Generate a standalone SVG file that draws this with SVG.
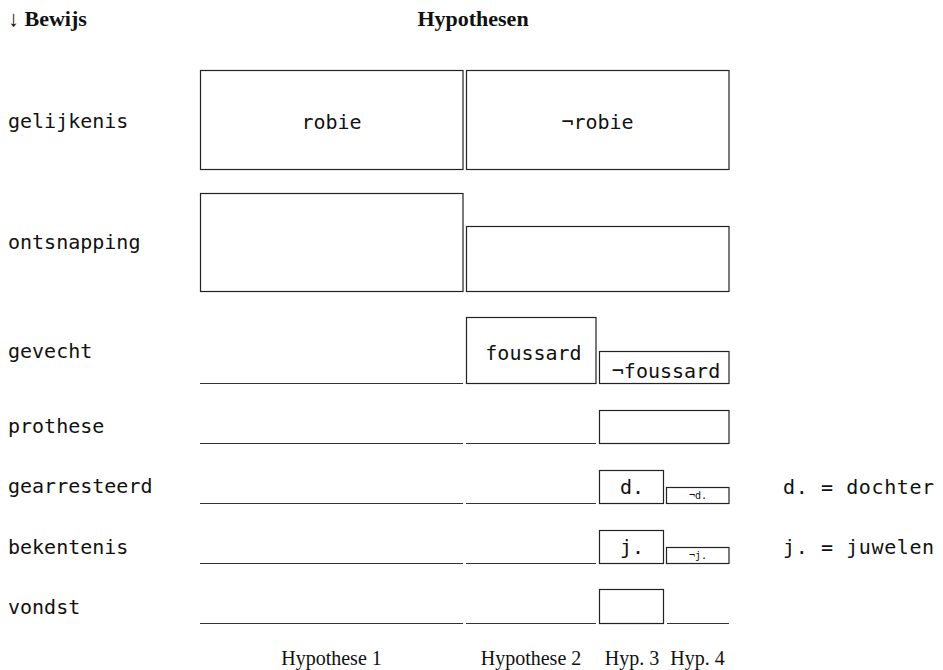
<svg xmlns="http://www.w3.org/2000/svg" width="943" height="670" viewBox="0 0 943 670">
<style>
.mono{font-family:"DejaVu Sans Mono","Liberation Mono",monospace;font-size:20px;fill:#111}
.small{font-family:"DejaVu Sans Mono","Liberation Mono",monospace;font-size:10px;fill:#111}
.head{font-family:"Liberation Serif","DejaVu Serif",serif;font-size:22px;font-weight:bold;fill:#111}
.foot{font-family:"Liberation Serif","DejaVu Serif",serif;font-size:20px;fill:#111}
.box{fill:#fff;stroke:#222;stroke-width:1.2}
.ln{stroke:#333;stroke-width:1.2;fill:none}
</style>
<rect width="943" height="670" fill="#fff"/>
<g id="headers">
<text class="head" x="8" y="26"><tspan font-weight="normal">↓</tspan> Bewijs</text>
<text class="head" x="473" y="26" text-anchor="middle">Hypothesen</text>
</g>
<g id="row-labels">
<text class="mono" x="8" y="128">gelijkenis</text>
<text class="mono" x="8" y="249">ontsnapping</text>
<text class="mono" x="8" y="358">gevecht</text>
<text class="mono" x="8" y="433">prothese</text>
<text class="mono" x="8" y="493">gearresteerd</text>
<text class="mono" x="8" y="554">bekentenis</text>
<text class="mono" x="8" y="614">vondst</text>
</g>
<g id="legend">
<text class="mono" x="783" y="494" letter-spacing="0.6">d. = dochter</text>
<text class="mono" x="783" y="554" letter-spacing="0.6">j. = juwelen</text>
</g>
<g id="connectors">
<line class="ln" x1="200" y1="383.5" x2="463" y2="383.5"/>
<line class="ln" x1="200" y1="443.5" x2="463" y2="443.5"/>
<line class="ln" x1="466" y1="443.5" x2="596" y2="443.5"/>
<line class="ln" x1="200" y1="503.5" x2="463" y2="503.5"/>
<line class="ln" x1="466" y1="503.5" x2="596" y2="503.5"/>
<line class="ln" x1="200" y1="563.5" x2="463" y2="563.5"/>
<line class="ln" x1="466" y1="563.5" x2="596" y2="563.5"/>
<line class="ln" x1="200" y1="623.5" x2="463" y2="623.5"/>
<line class="ln" x1="466" y1="623.5" x2="596" y2="623.5"/>
<line class="ln" x1="667" y1="623.5" x2="729" y2="623.5"/>
</g>
<g id="robie"><rect class="box" x="200.5" y="70.5" width="262.5" height="99"/><text class="mono" x="331.5" y="129" text-anchor="middle">robie</text></g>
<g id="not-robie"><rect class="box" x="466.5" y="70.5" width="262.5" height="99"/><text class="mono" x="597.5" y="129" text-anchor="middle">¬robie</text></g>
<g id="ontsnapping-1"><rect class="box" x="200.5" y="193.5" width="262.5" height="98"/></g>
<g id="ontsnapping-2"><rect class="box" x="466.5" y="226.5" width="262.5" height="65"/></g>
<g id="foussard"><rect class="box" x="466.5" y="317.5" width="129.5" height="66"/><text class="mono" x="533.5" y="360" text-anchor="middle">foussard</text></g>
<g id="not-foussard"><rect class="box" x="599.5" y="351.5" width="129.5" height="32"/><text class="mono" x="666" y="378" text-anchor="middle">¬foussard</text></g>
<g id="prothese-3"><rect class="box" x="599.5" y="410.5" width="129.5" height="33"/></g>
<g id="dochter"><rect class="box" x="599.5" y="470.5" width="64" height="33"/><text class="mono" x="632" y="494" text-anchor="middle">d.</text></g>
<g id="not-dochter"><rect class="box" x="666.5" y="487.5" width="62.5" height="16"/><text class="small" x="698" y="499" text-anchor="middle">¬d.</text></g>
<g id="juwelen"><rect class="box" x="599.5" y="530.5" width="64" height="33"/><text class="mono" x="632" y="554" text-anchor="middle">j.</text></g>
<g id="not-juwelen"><rect class="box" x="666.5" y="547.5" width="62.5" height="16"/><text class="small" x="698" y="559" text-anchor="middle">¬j.</text></g>
<g id="vondst-3"><rect class="box" x="599.5" y="589.5" width="64" height="34"/></g>
<g id="footers">
<text class="foot" x="331.5" y="665" text-anchor="middle">Hypothese 1</text>
<text class="foot" x="531" y="665" text-anchor="middle">Hypothese 2</text>
<text class="foot" x="632" y="665" text-anchor="middle">Hyp. 3</text>
<text class="foot" x="697.5" y="665" text-anchor="middle">Hyp. 4</text>
</g>
</svg>
